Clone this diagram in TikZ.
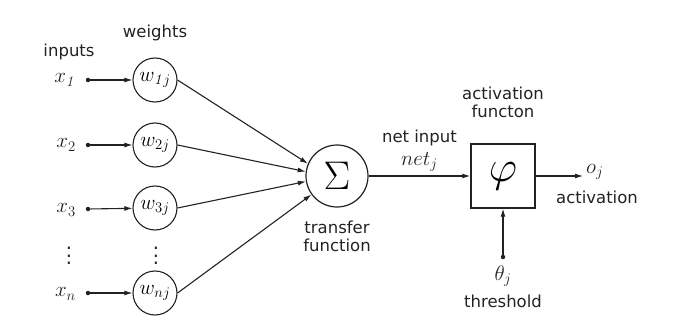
\RequirePackage{fix-cm}
\documentclass[tikz,border=0pt]{standalone}
\usepackage[no-math]{fontspec}
\usepackage{graphicx}
\setmainfont{DejaVu Sans}
\usetikzlibrary{positioning,arrows.meta}
\definecolor{ink}{HTML}{222222}
\tikzset{
  peso/.style={circle,draw=ink,line width=1.1pt,minimum size=44pt,inner sep=0pt,font=\fontsize{21}{23}\selectfont},
  suma/.style={circle,draw=ink,line width=1.2pt,minimum size=62pt,inner sep=0pt,font=\fontsize{40}{42}\selectfont},
  bloque/.style={rectangle,draw=ink,line width=1.4pt,minimum size=64pt,inner sep=0pt,font=\fontsize{44}{46}\selectfont},
  punto/.style={circle,fill=ink,inner sep=0pt,minimum size=4.5pt},
  flechita/.style={-{Latex[length=8pt,width=5pt]},line width=1.1pt,color=ink},
  rotulo/.style={font=\fontsize{16.5}{18}\selectfont,color=ink,align=center,inner sep=1pt},
  mat/.style={font=\fontsize{21}{23}\selectfont,color=ink,inner sep=1pt},
  puntos/.style={color=ink,inner sep=0pt},
}
\newcommand{\tresp}{\scalebox{1.95}{$\vdots$}}
\begin{document}
\begin{tikzpicture}[x=1pt,y=-1pt]
  \useasboundingbox (0,0) rectangle (679,331);
  % entradas y pesos
  \node[mat,anchor=east] (x1) at (77,80) {$x_{\mathit{1}}$};
  \node[mat,anchor=east] (x2) at (77,145) {$x_2$};
  \node[mat,anchor=east] (x3) at (77,210) {$x_3$};
  \node[mat,anchor=east] (xn) at (77,294) {$x_n$};
  \node[puntos] (vx) at (69,250) {\tresp};
  \node[punto] (d1) at (88,80) {};
  \node[punto] (d2) at (88,145) {};
  \node[punto] (d3) at (88,209) {};
  \node[punto] (dn) at (88,293) {};
  \node[peso] (w1) at (155,80) {$w_{\mathit{1}j}$};
  \node[peso] (w2) at (155,145) {$w_{2j}$};
  \node[peso] (w3) at (155,208) {$w_{3j}$};
  \node[peso] (wn) at (155,293) {$w_{nj}$};
  \node[puntos] (vw) at (156,250) {\tresp};
  \node[rotulo] (inp) at (69,52) {inputs};
  \node[rotulo] (wei) at (155,33) {weights};
  % suma y activacion
  \node[suma] (sum) at (337,176) {$\Sigma$};
  \node[bloque] (fi) at (503,176) {$\varphi$};
  \node[rotulo,below=12pt of sum] (tra) {transfer\\function};
  \node[rotulo,above=24pt of fi] (act) {activation\\functon};
  \coordinate (fin) at (583,176);
  \node[mat,anchor=west] (oj) at (585,172) {$o_j$};
  \node[rotulo] (sal) at (597,197) {activation};
  \node[punto] (th) at (503,257) {};
  \node[mat,below=5pt of th] (tj) {$\theta_j$};
  \node[rotulo,below=6pt of tj] (thr) {threshold};
  \draw[flechita] (d1) -- (w1);
  \draw[flechita] (d2) -- (w2);
  \draw[flechita] (d3) -- (w3);
  \draw[flechita] (dn) -- (wn);
  \draw[flechita] (w1.east) -- (sum.157);
  \draw[flechita] (w2.east) -- (sum.172);
  \draw[flechita] (w3.east) -- (sum.190);
  \draw[flechita] (wn.east) -- (sum.216);
  \draw[flechita] (sum) -- node[mat,above=3pt] (net) {$net_j$} (fi);
  \node[rotulo,above=4pt of net] (neti) {net input};
  \draw[flechita] (fi) -- (fin);
  \draw[flechita] (th) -- (fi);
\end{tikzpicture}
\end{document}
